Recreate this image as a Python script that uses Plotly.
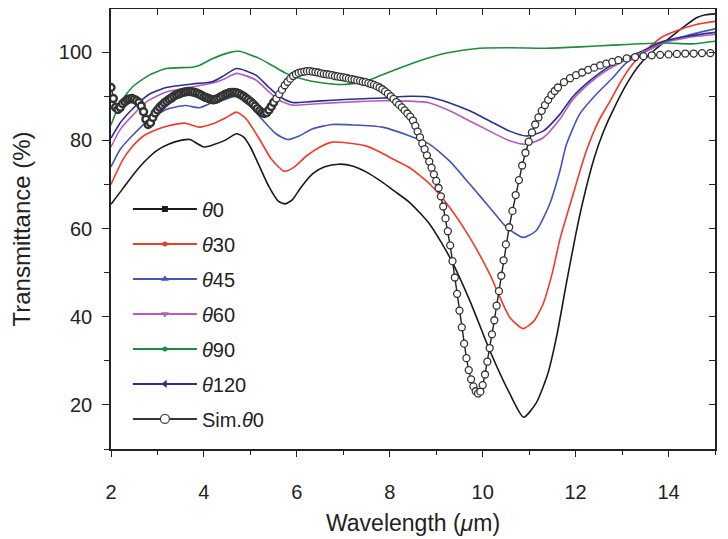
import plotly.graph_objects as go

# ---------------- data ----------------
t0_x = [2.00, 2.25, 2.50, 2.75, 3.00, 3.25, 3.50, 3.70, 3.85, 4.00, 4.20, 4.45, 4.70, 4.85, 5.00, 5.20, 5.40,
        5.60, 5.75, 5.90, 6.10, 6.35, 6.60, 6.90, 7.20, 7.50, 7.80, 8.10, 8.43, 8.86, 9.29, 9.72, 10.15, 10.58,
        10.88, 11.15, 11.40, 11.60, 11.80, 12.00, 12.16, 12.40, 12.60, 12.80, 13.10, 13.38, 13.70, 14.02, 14.30,
        14.60, 14.80, 15.00]
t0_y = [65.5, 69.0, 72.5, 75.5, 77.8, 79.2, 80.0, 80.2, 79.3, 78.5, 79.0, 80.0, 81.5, 80.8, 78.5, 74.0, 69.5,
        66.2, 65.6, 66.5, 69.5, 72.5, 74.0, 74.6, 74.2, 72.8, 70.8, 68.5, 65.9, 61.0, 53.5, 43.7, 32.4, 22.6,
        17.2, 20.4, 27.0, 36.0, 47.5, 58.5, 66.3, 76.0, 82.0, 86.7, 92.8, 97.2, 100.5, 103.2, 105.5,
        107.8, 108.5, 108.7]

t30_x = [2.00, 2.25, 2.45, 2.70, 3.00, 3.20, 3.60, 3.90, 4.18, 4.45, 4.70, 4.90, 5.20, 5.45, 5.73, 5.95, 6.20,
         6.50, 6.76, 7.10, 7.50, 7.80, 8.10, 8.43, 8.86, 9.29, 9.72, 10.15, 10.58, 10.87, 11.10, 11.30, 11.50,
         11.66, 11.91, 12.23, 12.50, 12.73, 13.00, 13.23, 13.50, 13.87, 14.20, 14.60, 15.00]
t30_y = [70.0, 75.5, 78.5, 81.0, 82.5, 83.2, 83.9, 83.0, 83.7, 85.0, 86.4, 85.0, 80.2, 75.8, 73.0, 74.0, 76.4,
         78.5, 79.6, 79.4, 78.7, 77.3, 75.6, 73.8, 70.1, 64.8, 58.0, 49.7, 39.9, 37.3, 39.0, 42.9, 50.0,
         57.5, 66.5, 77.6, 84.5, 88.7, 93.8, 97.3, 100.3, 103.5, 105.0, 106.3, 107.0]

t45_x = [2.00, 2.20, 2.45, 2.80, 3.19, 3.60, 3.90, 4.18, 4.45, 4.70, 4.95, 5.25, 5.55, 5.80, 6.05, 6.33, 6.76,
         7.20, 7.84, 8.43, 8.86, 9.29, 9.72, 10.15, 10.51, 10.87, 11.15, 11.44, 11.66, 11.80, 12.09, 12.44,
         12.80, 13.09, 13.52, 13.88, 14.40, 15.00]
t45_y = [74.0, 78.0, 81.0, 84.5, 87.0, 87.9, 87.4, 88.6, 89.3, 90.0, 88.5, 84.8, 81.5, 80.2, 81.0, 82.6, 83.6,
         83.5, 83.0, 81.0, 79.1, 75.3, 70.1, 64.8, 60.3, 58.0, 59.5, 65.5, 73.0, 79.0, 86.0, 90.4,
         94.2, 97.6, 100.2, 102.1, 103.8, 105.3]

t60_x = [2.00, 2.20, 2.45, 2.80, 3.19, 3.75, 4.18, 4.45, 4.70, 5.12, 5.40, 5.62, 5.90, 6.30, 6.76, 7.30, 7.84,
         8.43, 8.86, 9.29, 9.72, 10.15, 10.58, 10.94, 11.30, 11.66, 11.93, 12.30, 12.67, 13.00, 13.38, 13.87,
         14.40, 15.00]
t60_y = [78.5, 82.5, 85.5, 89.0, 91.0, 92.1, 93.0, 94.0, 95.2, 93.7, 91.0, 89.1, 88.0, 88.2, 88.5, 88.8, 89.0,
         88.9, 88.5, 86.7, 84.4, 82.1, 79.9, 79.1, 80.6, 84.8, 89.1, 93.0, 95.9, 97.8, 99.5, 102.0,
         103.3, 104.0]

t90_x = [2.00, 2.20, 2.45, 2.82, 3.19, 3.75, 3.90, 4.18, 4.54, 4.76, 5.19, 5.50, 5.77, 6.20, 6.76, 7.06, 7.50,
         7.80, 7.99, 8.49, 9.22, 9.93, 10.60, 11.37, 12.10, 12.80, 13.87, 14.50, 15.00]
t90_y = [83.5, 88.5, 92.0, 94.8, 96.3, 96.6, 97.0, 98.5, 99.9, 100.2, 98.6, 96.8, 95.2, 93.7, 92.8, 92.7, 93.5,
         94.7, 95.5, 97.5, 99.8, 100.9, 101.0, 100.9, 101.2, 101.6, 102.1, 101.9, 102.5]

t120_x = [2.00, 2.20, 2.45, 2.80, 3.19, 3.75, 4.18, 4.45, 4.70, 5.12, 5.40, 5.62, 5.90, 6.30, 6.76, 7.30, 7.84,
          8.43, 8.86, 9.29, 9.72, 10.15, 10.58, 10.94, 11.30, 11.66, 11.93, 12.30, 12.67, 13.00, 13.38, 13.87,
          14.40, 15.00]
t120_y = [80.5, 84.0, 87.0, 90.3, 92.0, 92.8, 93.3, 94.8, 96.3, 94.8, 92.0, 90.0, 88.6, 88.8, 89.1, 89.4, 89.6,
          90.0, 89.8, 88.5, 86.7, 84.4, 82.1, 81.0, 82.1, 85.9, 89.8, 93.5, 96.4, 98.3, 100.0, 102.4,
          103.6, 104.5]

sim_x = [2.00, 2.05, 2.10, 2.15, 2.20, 2.25, 2.30, 2.35, 2.40, 2.45, 2.50, 2.55, 2.60, 2.65, 2.70, 2.75,
         2.80, 2.85, 2.90, 2.95, 3.00, 3.05, 3.10, 3.15, 3.20, 3.25, 3.30, 3.35, 3.40, 3.45, 3.50, 3.55,
         3.60, 3.65, 3.70, 3.75, 3.80, 3.85, 3.90, 3.95, 4.00, 4.05, 4.10, 4.15, 4.20, 4.25, 4.30, 4.35,
         4.40, 4.45, 4.50, 4.55, 4.60, 4.65, 4.70, 4.75, 4.80, 4.85, 4.90, 4.95, 5.00, 5.05, 5.10, 5.15,
         5.20, 5.25, 5.30, 5.35, 5.40, 5.45, 5.50,
         5.56, 5.62, 5.68, 5.74, 5.80, 5.86, 5.92, 5.98, 6.04, 6.10, 6.16, 6.22, 6.28, 6.34, 6.40, 6.46,
         6.52, 6.58, 6.64, 6.70, 6.76, 6.82, 6.88, 6.94, 7.00, 7.06, 7.12, 7.18, 7.24, 7.30, 7.36, 7.42,
         7.48, 7.54, 7.60, 7.66, 7.72, 7.78, 7.84, 7.90, 7.96, 8.02, 8.08, 8.14, 8.20, 8.26, 8.32, 8.38, 8.44,
         8.50, 8.55, 8.60, 8.65, 8.70, 8.75, 8.80, 8.85, 8.90, 8.95, 9.00, 9.05, 9.10, 9.15, 9.20, 9.25,
         9.30, 9.35, 9.40, 9.45, 9.50, 9.55, 9.60, 9.65, 9.70, 9.75, 9.80, 9.85, 9.90, 9.95, 10.00, 10.05,
         10.10, 10.15, 10.20, 10.25, 10.30, 10.35, 10.40, 10.45, 10.50,
         10.57, 10.64, 10.71, 10.78, 10.85, 10.92, 10.99, 11.06, 11.13, 11.20, 11.27, 11.34, 11.41, 11.48,
         11.55, 11.62,
         11.75, 11.88, 12.01, 12.14, 12.27, 12.40, 12.53, 12.66, 12.79, 12.92,
         13.10, 13.28, 13.46, 13.64, 13.82, 14.00, 14.18, 14.36, 14.54, 14.72, 14.90]
sim_y = [92.0, 89.5, 87.5, 87.0, 87.5, 88.3, 88.8, 89.2, 89.4, 89.5, 89.3, 89.0, 88.6, 87.8, 86.5, 84.8,
         83.6, 84.0, 85.2, 86.2, 86.9, 87.5, 88.0, 88.5, 88.9, 89.3, 89.6, 90.0, 90.3, 90.5, 90.7, 90.9,
         91.0, 91.1, 91.1, 91.0, 90.9, 90.7, 90.5, 90.2, 89.9, 89.7, 89.5, 89.3, 89.2, 89.3, 89.5, 89.8,
         90.1, 90.4, 90.6, 90.8, 90.9, 90.9, 90.8, 90.6, 90.3, 90.0, 89.6, 89.2, 88.8, 88.3, 87.8, 87.2,
         86.7, 86.3, 86.1, 86.3, 86.9, 87.7, 88.6,
         89.5, 90.5, 91.5, 92.5, 93.3, 94.0, 94.6, 95.0, 95.3, 95.5, 95.6, 95.7, 95.7, 95.6, 95.5, 95.4,
         95.2, 95.1, 95.0, 94.9, 94.8, 94.6, 94.5, 94.4, 94.3, 94.2, 94.0, 93.9, 93.8, 93.6, 93.5, 93.3,
         93.2, 93.0, 92.8, 92.6, 92.3, 92.0, 91.6, 91.1, 90.6, 90.0, 89.4, 88.7, 88.1, 87.5, 86.8, 86.1, 85.4,
         84.5, 83.3, 82.0, 80.7, 79.3, 78.0, 76.6, 75.2, 73.8, 72.3, 70.8, 69.2, 67.3, 65.0, 62.3, 59.4,
         56.2, 52.6, 48.9, 45.2, 41.4, 37.6, 33.9, 30.6, 27.9, 25.8, 24.2, 23.1, 22.6, 23.0, 24.5, 26.9,
         29.8, 32.9, 36.0, 39.2, 42.5, 45.8, 49.3, 52.8, 56.4,
         60.3, 64.0, 67.6, 71.0, 74.3, 77.2, 79.7, 81.8, 83.6, 85.2, 86.7, 88.0, 89.2, 90.3,
         91.2, 92.0,
         93.2, 94.1, 94.8, 95.4, 96.0, 96.5, 97.0, 97.4, 97.8, 98.2,
         98.6, 98.9, 99.1, 99.3, 99.4, 99.5, 99.6, 99.7, 99.7, 99.8, 99.8]

x_ticks = [2, 4, 6, 8, 10, 12, 14]
y_ticks = [20, 40, 60, 80, 100]

series = [
    ("<i>θ</i>0", t0_x, t0_y, "#1a1a1a", "square", 6),
    ("<i>θ</i>30", t30_x, t30_y, "#f03a2c", "circle", 5),
    ("<i>θ</i>45", t45_x, t45_y, "#4554b8", "triangle-up", 7),
    ("<i>θ</i>60", t60_x, t60_y, "#b45cc0", "triangle-down", 7),
    ("<i>θ</i>90", t90_x, t90_y, "#1e8c3c", "circle", 5),
    ("<i>θ</i>120", t120_x, t120_y, "#2d2f8f", "triangle-left", 7),
]

FONT = "Liberation Sans, Arial, sans-serif"
TXT = "#222222"

fig = go.Figure()

for name, xs, ys, col, sym, msz in series:
    fig.add_trace(go.Scatter(x=xs, y=ys, mode="lines", line=dict(color=col, width=1.6, shape="spline", smoothing=0.6),
                             showlegend=False, hoverinfo="skip"))

# denser (overlapping) rings in the short-wavelength part look darker in the reference
sim_edge_w = [2.4 if v < 5.55 else 1.3 for v in sim_x]
fig.add_trace(go.Scatter(x=sim_x, y=sim_y, mode="lines+markers",
                         line=dict(color="#222222", width=1.4),
                         marker=dict(symbol="circle", size=7, color="white",
                                     line=dict(color="#333333", width=sim_edge_w)),
                         showlegend=False, hoverinfo="skip"))

# legend entries
for i, (name, xs, ys, col, sym, msz) in enumerate(series):
    fig.add_trace(go.Scatter(x=[None], y=[None], mode="lines+markers", name=name, legendgroup="g%d" % i,
                             line=dict(color=col, width=2), marker=dict(symbol=sym, size=msz, color=col)))
fig.add_trace(go.Scatter(x=[None], y=[None], mode="lines+markers", name="Sim.<i>θ</i>0", legendgroup="g6",
                         line=dict(color="#333333", width=2),
                         marker=dict(symbol="circle", size=9, color="white", line=dict(color="#444444", width=1.3))))

# dummy trace for overlay axes (top/right inside ticks)
fig.add_trace(go.Scatter(x=[None], y=[None], xaxis="x2", yaxis="y2", showlegend=False, hoverinfo="skip"))

# the page body adds an 8px offset, so the figure is sized 8px smaller and margins shifted
fig.update_layout(
    width=720, height=531,
    margin=dict(l=103, r=13, t=1, b=90, autoexpand=False),
    paper_bgcolor="white", plot_bgcolor="white",
    font=dict(family=FONT, color=TXT),
    showlegend=True,
    legend=dict(x=0.028, y=0.59, xanchor="left", yanchor="top", bgcolor="rgba(0,0,0,0)",
                font=dict(size=20, family=FONT, color=TXT), traceorder="grouped", tracegroupgap=6,
                itemwidth=64),
    xaxis=dict(range=[2, 15], tickvals=x_ticks, ticks="outside", ticklen=6, tickwidth=1.3, tickcolor="#222",
               minor=dict(dtick=1, tick0=2, ticks="outside", ticklen=4, tickwidth=1.3, tickcolor="#222"),
               showline=True, linecolor="#222", linewidth=1.6, showgrid=False, zeroline=False, automargin=False,
               tickfont=dict(size=20, family=FONT, color=TXT), ticklabelstandoff=18,
               title=dict(text="Wavelength (<i>μ</i>m)", font=dict(size=23, family=FONT, color=TXT), standoff=13)),
    yaxis=dict(range=[10, 109.8], tickvals=y_ticks, ticks="outside", ticklen=7, tickwidth=1.3, tickcolor="#222",
               minor=dict(dtick=10, tick0=0, ticks="outside", ticklen=5, tickwidth=1.3, tickcolor="#222"),
               showline=True, linecolor="#222", linewidth=1.6, showgrid=False, zeroline=False, automargin=False,
               tickfont=dict(size=20, family=FONT, color=TXT), ticklabelstandoff=6,
               title=dict(text="Transmittance (%)", font=dict(size=24, family=FONT, color=TXT), standoff=22)),
    xaxis2=dict(range=[2, 15], overlaying="x", side="top", anchor="y2", dtick=1, tick0=2, ticks="inside", ticklen=6,
                tickwidth=1.3, tickcolor="#222", showticklabels=False, showline=True, linecolor="#222",
                linewidth=1.6, showgrid=False, zeroline=False, automargin=False),
    yaxis2=dict(range=[10, 109.8], overlaying="y", side="right", anchor="x2", dtick=10, tick0=0, ticks="inside",
                ticklen=6, tickwidth=1.3, tickcolor="#222", showticklabels=False, showline=True,
                linecolor="#222", linewidth=1.6, showgrid=False, zeroline=False, automargin=False),
)

fig.write_html("out.html")
